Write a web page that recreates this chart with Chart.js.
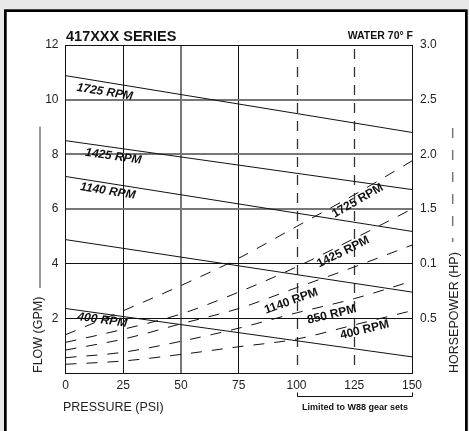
<!DOCTYPE html>
<html>
<head>
<meta charset="utf-8">
<script src="https://cdn.jsdelivr.net/npm/chart.js@4.4.0/dist/chart.umd.min.js"></script>
<style>
  html, body { margin: 0; padding: 0; background: #e8e8e8; }
  canvas { display: block; }
</style>
</head>
<body>
<canvas id="pumpChart" width="469" height="431"></canvas>
<script>
// pressure (psi) where the horsepower curves were read
const pressure = [0, 25, 50, 75, 100, 125, 150];
// flow lines are straight, read at both ends
const flowPressure = [0, 150];
const rpmNames = ['1725 RPM', '1425 RPM', '1140 RPM', '850 RPM', '400 RPM'];

// flow (GPM)
const flow1725 = [10.88, 8.80];
const flow1425 = [8.50, 6.71];
const flow1140 = [7.19, 5.18];
const flow850 = [4.88, 2.96];
const flow400 = [2.36, 0.59];

// horsepower (HP)
const hp1725 = [0.35, 0.57, 0.80, 1.05, 1.34, 1.63, 1.94];
const hp1425 = [0.28, 0.40, 0.54, 0.74, 0.97, 1.23, 1.50];
const hp1140 = [0.21, 0.31, 0.45, 0.59, 0.78, 0.97, 1.17];
const hp850 = [0.14, 0.19, 0.29, 0.41, 0.55, 0.68, 0.84];
const hp400 = [0.08, 0.11, 0.17, 0.24, 0.31, 0.44, 0.57];

// tick labels (right axis really says 0.1 at 1.0)
const flowTicks = ['', '2', '4', '6', '8', '10', '12'];
const hpTicks = ['', '0.5', '0.1', '1.5', '2.0', '2.5', '3.0'];
const dashedGrid = [100, 125];

const flows = [flow1725, flow1425, flow1140, flow850, flow400];
const hps = [hp1725, hp1425, hp1140, hp850, hp400];

// where the rpm names sit along their lines (psi) and how far below (px)
const flowLabelAt = [17, 20.7, 18.3, null, 15.9];
const flowLabelDrop = [10, 9, 8, 0, 6.5];
const hpLabelAt = [126.5, 120.2, 97.7, 115.3, 129.5];
const hpLabelDrop = [8, 8, 11.5, 10.5, 7.5];

const FONT = '"Liberation Sans", Arial, sans-serif';

function pts(xs, ys) {
    return xs.map((x, i) => ({ x: x, y: ys[i] }));
}

function valueAt(xs, ys, p) {
    for (let i = 0; i < xs.length - 1; i++) {
        if (p <= xs[i + 1]) {
            const t = (p - xs[i]) / (xs[i + 1] - xs[i]);
            return ys[i] + t * (ys[i + 1] - ys[i]);
        }
    }
    return ys[ys.length - 1];
}

function lineLabel(chart, text, xs, ys, axisId, p, drop, font) {
    const ctx = chart.ctx;
    const sx = chart.scales.x, sy = chart.scales[axisId];
    const px = sx.getPixelForValue(p);
    const py = sy.getPixelForValue(valueAt(xs, ys, p));
    const a = Math.max(p - 6, 0), b = Math.min(p + 6, 150);
    const dx = sx.getPixelForValue(b) - sx.getPixelForValue(a);
    const dy = sy.getPixelForValue(valueAt(xs, ys, b)) - sy.getPixelForValue(valueAt(xs, ys, a));
    ctx.save();
    ctx.translate(px, py + drop);
    ctx.rotate(Math.atan2(dy, dx));
    ctx.font = font;
    ctx.fillStyle = '#111';
    ctx.textAlign = 'center';
    ctx.textBaseline = 'middle';
    ctx.fillText(text, 0, 0);
    ctx.restore();
}

const decor = {
    id: 'decor',
    beforeDraw(chart) {
        const ctx = chart.ctx;
        ctx.save();
        ctx.fillStyle = '#e8e8e8';
        ctx.fillRect(0, 0, 469, 431);
        ctx.fillStyle = '#000';
        ctx.fillRect(4, 9.3, 463.7, 422);
        ctx.fillStyle = '#fff';
        ctx.fillRect(6.7, 12, 458.3, 420);
        ctx.restore();
    },
    beforeDatasetsDraw(chart) {
        const ctx = chart.ctx, area = chart.chartArea;
        ctx.save();
        ctx.strokeStyle = '#333';
        ctx.lineWidth = 1.3;
        ctx.setLineDash([10, 8]);
        dashedGrid.forEach(v => {
            const x = Math.round(chart.scales.x.getPixelForValue(v)) + 0.5;
            ctx.beginPath();
            ctx.moveTo(x, area.top + 4);
            ctx.lineTo(x, area.bottom);
            ctx.stroke();
        });
        ctx.restore();
    },
    afterDraw(chart) {
        const ctx = chart.ctx;
        const sx = chart.scales.x;
        ctx.save();
        ctx.fillStyle = '#111';

        // titles
        ctx.font = 'bold 14.5px ' + FONT;
        ctx.textAlign = 'left';
        ctx.textBaseline = 'alphabetic';
        ctx.fillText('417XXX SERIES', 66, 40.5);
        ctx.font = 'bold 10.5px ' + FONT;
        ctx.textAlign = 'right';
        ctx.fillText('WATER 70\u00B0 F', 413, 38.5);

        // axis titles
        ctx.fillStyle = '#222';
        ctx.font = '12.5px ' + FONT;
        ctx.textAlign = 'left';
        ctx.fillText('PRESSURE (PSI)', 63, 410.5);

        ctx.save();
        ctx.translate(42, 373);
        ctx.rotate(-Math.PI / 2);
        ctx.fillText('FLOW (GPM)', 0, 0);
        ctx.restore();
        ctx.strokeStyle = '#777';
        ctx.lineWidth = 1.5;
        ctx.beginPath();
        ctx.moveTo(40, 288);
        ctx.lineTo(40, 126.5);
        ctx.stroke();

        ctx.save();
        ctx.translate(457.5, 373);
        ctx.rotate(-Math.PI / 2);
        ctx.fillText('HORSEPOWER (HP)', 0, 0);
        ctx.restore();
        ctx.setLineDash([10, 12]);
        ctx.beginPath();
        ctx.moveTo(452.7, 128);
        ctx.lineTo(452.7, 242);
        ctx.stroke();
        ctx.setLineDash([]);

        // bracket under 100..150
        const bx0 = Math.round(sx.getPixelForValue(100)) + 0.5;
        const bx1 = Math.round(sx.getPixelForValue(150)) + 0.5;
        ctx.strokeStyle = '#111';
        ctx.lineWidth = 1;
        ctx.beginPath();
        ctx.moveTo(bx0, 392.5);
        ctx.lineTo(bx0, 396.5);
        ctx.lineTo(bx1, 396.5);
        ctx.lineTo(bx1, 392.5);
        ctx.stroke();
        ctx.font = 'bold 9px ' + FONT;
        ctx.textAlign = 'center';
        ctx.fillStyle = '#111';
        ctx.fillText('Limited to W88 gear sets', (bx0 + bx1) / 2, 410);
        ctx.restore();

        // rpm names on the lines
        flows.forEach((f, i) => {
            if (flowLabelAt[i] === null) return;
            lineLabel(chart, rpmNames[i], flowPressure, f, 'y', flowLabelAt[i], flowLabelDrop[i], 'italic bold 12px ' + FONT);
        });
        hps.forEach((h, i) => {
            lineLabel(chart, rpmNames[i], pressure, h, 'y2', hpLabelAt[i], hpLabelDrop[i], 'bold 12px ' + FONT);
        });
    }
};

const datasets = [];
flows.forEach((f, i) => {
    datasets.push({
        label: rpmNames[i] + ' flow',
        data: pts(flowPressure, f),
        yAxisID: 'y',
        borderColor: '#111',
        borderWidth: 1,
        pointRadius: 0
    });
});
hps.forEach((h, i) => {
    datasets.push({
        label: rpmNames[i] + ' hp',
        data: pts(pressure, h),
        yAxisID: 'y2',
        borderColor: '#111',
        borderWidth: 1,
        borderDash: [11, 10],
        cubicInterpolationMode: 'monotone',
        pointRadius: 0
    });
});

const isGray = (axis, v) => axis === 'x' ? v === 50 : (v === 6 || v === 8 || v === 10);

new Chart(document.getElementById('pumpChart'), {
    type: 'line',
    data: { datasets: datasets },
    options: {
        responsive: false,
        animation: false,
        devicePixelRatio: 1,
        layout: { padding: { top: 45, left: 0, right: 0, bottom: 0 } },
        plugins: {
            legend: { display: false },
            tooltip: { enabled: false }
        },
        scales: {
            x: {
                type: 'linear',
                min: 0,
                max: 150,
                afterFit: (s) => { s.height = 58; },
                ticks: {
                    stepSize: 25,
                    padding: 5,
                    color: '#222',
                    font: { family: FONT, size: 12 },
                    maxRotation: 0
                },
                grid: {
                    drawTicks: false,
                    lineWidth: (c) => isGray('x', c.tick ? c.tick.value : 0) ? 2 : 1,
                    color: (c) => {
                        const v = c.tick ? c.tick.value : 0;
                        if (dashedGrid.includes(v)) return 'rgba(0,0,0,0)';
                        return isGray('x', v) ? '#777' : '#111';
                    }
                },
                border: { display: true, color: '#111', width: 1 }
            },
            y: {
                position: 'left',
                min: 0,
                max: 12,
                afterFit: (s) => { s.width = 65.5; },
                ticks: {
                    stepSize: 2,
                    padding: 7,
                    color: '#222',
                    font: { family: FONT, size: 12 },
                    callback: (v) => flowTicks[Math.round(v / 2)]
                },
                grid: {
                    drawTicks: false,
                    lineWidth: (c) => isGray('y', c.tick ? c.tick.value : 0) ? 2 : 1,
                    color: (c) => isGray('y', c.tick ? c.tick.value : 0) ? '#777' : '#111'
                },
                border: { display: true, color: '#111', width: 1 }
            },
            y2: {
                position: 'right',
                min: 0,
                max: 3,
                afterFit: (s) => { s.width = 57; },
                ticks: {
                    stepSize: 0.5,
                    padding: 8,
                    color: '#222',
                    font: { family: FONT, size: 12 },
                    callback: (v) => hpTicks[Math.round(v / 0.5)]
                },
                grid: { display: false, drawTicks: false },
                border: { display: true, color: '#111', width: 1 }
            }
        }
    },
    plugins: [decor]
});
</script>
</body>
</html>
